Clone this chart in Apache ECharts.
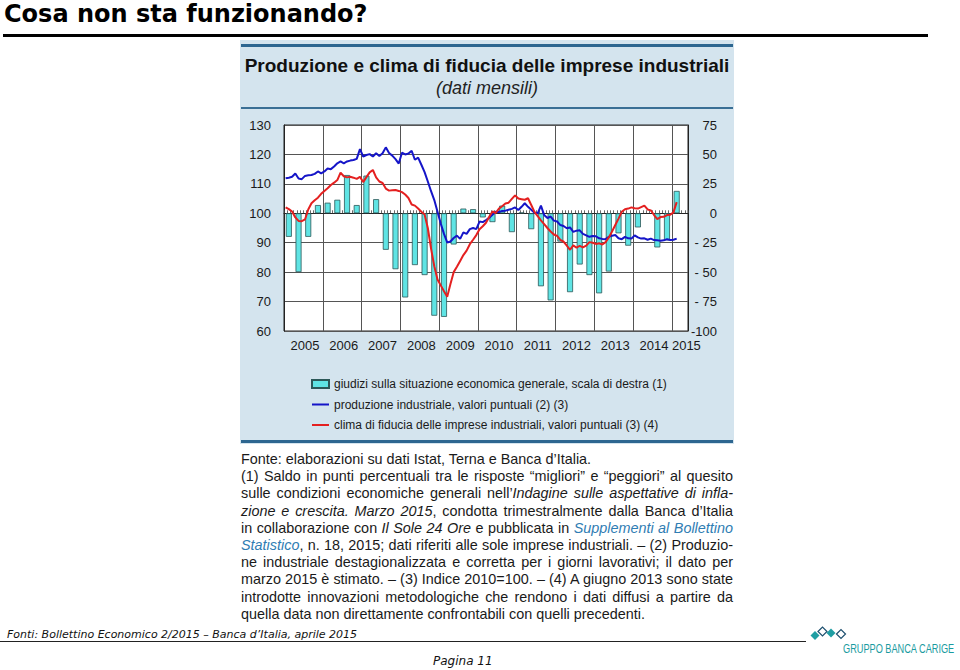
<!DOCTYPE html>
<html><head><meta charset="utf-8">
<script src="https://cdn.jsdelivr.net/npm/echarts@6/dist/echarts.min.js"></script>
<style>
html,body{margin:0;padding:0;width:960px;height:670px;overflow:hidden;background:#fff;}
#slideTitle{position:absolute;left:4px;top:0;font:bold 24px "DejaVu Sans",Verdana,sans-serif;line-height:28px;color:#000;white-space:nowrap;}
#rule{position:absolute;left:3px;top:34px;width:925px;height:3px;background:#000;}
#chart{position:absolute;left:240px;top:40px;width:494px;height:404px;}
#notes{position:absolute;left:241px;top:451px;width:492px;font:14.4px "Liberation Sans",Arial,sans-serif;line-height:17.2px;color:#1a1a1a;}
#notes div{text-align:justify;text-align-last:justify;height:17.2px;}
#notes div.l{text-align-last:left;}
#notes i.b{color:#2f7db3;}
#fonti{position:absolute;left:7px;top:628px;font:italic 11px "DejaVu Sans",Verdana,sans-serif;line-height:14px;color:#111;white-space:nowrap;}
#frule{position:absolute;left:0;top:641px;width:806px;height:1px;background:#222;}
#pagina{position:absolute;left:433px;top:653px;font:italic 12px "DejaVu Sans",Verdana,sans-serif;line-height:16px;color:#111;white-space:nowrap;}
#logo{position:absolute;left:800px;top:622px;}
#logoText{position:absolute;left:843px;top:641px;font:13.5px "Liberation Sans",Arial,sans-serif;line-height:15px;color:#1a9ba0;white-space:nowrap;transform:scaleX(0.68);transform-origin:0 0;}
</style></head>
<body>
<div id="slideTitle">Cosa non sta funzionando?</div>
<div id="rule"></div>
<div id="chart"></div>
<div id="notes">
<div class="l">Fonte: elaborazioni su dati Istat, Terna e Banca d’Italia.</div>
<div>(1) Saldo in punti percentuali tra le risposte “migliori” e “peggiori” al quesito</div>
<div>sulle condizioni economiche generali nell’<i>Indagine sulle aspettative di infla-</i></div>
<div><i>zione e crescita. Marzo 2015</i>, condotta trimestralmente dalla Banca d’Italia</div>
<div>in collaborazione con <i>Il Sole 24 Ore</i> e pubblicata in <i class="b">Supplementi al Bollettino</i></div>
<div><i class="b">Statistico</i>, n. 18, 2015; dati riferiti alle sole imprese industriali. – (2) Produzio-</div>
<div>ne industriale destagionalizzata e corretta per i giorni lavorativi; il dato per</div>
<div>marzo 2015 è stimato. – (3) Indice 2010=100. – (4) A giugno 2013 sono state</div>
<div>introdotte innovazioni metodologiche che rendono i dati diffusi a partire da</div>
<div class="l">quella data non direttamente confrontabili con quelli precedenti.</div>
</div>
<div id="fonti">Fonti: Bollettino Economico 2/2015 – Banca d’Italia, aprile 2015</div>
<div id="frule"></div>
<div id="pagina">Pagina 11</div>
<svg id="logo" width="50" height="22">
<polygon points="10.5,13.5 15,9 19.5,13.5 15,18" fill="#1f9ea3"/>
<polygon points="18,9.5 22.5,5 27,9.5 22.5,14" fill="#fff" stroke="#1d4f6e" stroke-width="1.2"/>
<polygon points="26.5,11 31,6.5 35.5,11 31,15.5" fill="#1f9ea3"/>
<polygon points="36.5,12 41,7.5 45.5,12 41,16.5" fill="#fff" stroke="#1d4f6e" stroke-width="1.2"/>
</svg>
<div id="logoText">GRUPPO BANCA CARIGE</div>
<script>
// ---- data ----
const years = ['2005','2006','2007','2008','2009','2010','2011','2012','2013','2014','2015'];
const months = [];
years.forEach(y => { for (let m = 1; m <= 12; m++) { if (y === '2015' && m > 5) break; months.push(y + '-' + String(m).padStart(2, '0')); } });

const rightTicks = [75, 50, 25, 0, -25, -50, -75, -100];

// quarterly survey balance (Q1 2005 .. Q1 2015), right scale
const giudizi = [
  -20, -50, -20, 7,
  9, 11.5, 32.5, 7,
  32, 12, -31, -47.5,
  -71.5, -44, -52.5, -87,
  -88, -26.5, 4, 3.5,
  -3.5, -7.5, 6.5, -16,
  0.6, -13.5, -62, -74,
  -24, -67, -43.5, -52.5,
  -68, -49.5, -17, -27.5,
  -12, null, -29, -23,
  19
];

// monthly industrial production (Jan 2005 .. Feb 2015)
const produzione = [
  111.9,112.1,112.4,113.5,111.8,111.6,112.7,112.9,113.0,113.4,114.2,113.6,
  114.2,115.2,115.0,115.9,117.0,117.6,117.0,117.6,117.9,118.1,118.5,121.8,
  119.3,119.8,120.1,119.3,120.4,119.5,120.4,122.4,120.5,119.6,118.4,116.9,
  120.6,120.0,120.3,121.2,118.2,118.9,116.5,114.0,110.8,107.5,104.5,100.5,
  96.5,93.0,90.1,90.4,91.6,92.4,91.3,93.5,93.0,94.6,95.0,94.6,
  97.2,97.0,97.7,98.5,99.5,100.5,100.4,100.8,100.9,101.2,101.5,102.0,
  101.1,102.2,103.4,102.2,101.2,100.2,100.0,102.6,99.4,98.4,98.9,97.5,
  97.2,96.0,95.7,94.9,95.2,93.7,94.1,94.2,93.0,92.5,92.0,92.3,
  92.2,91.5,91.3,91.2,92.0,92.4,92.6,91.5,91.2,92.0,91.5,91.4,
  92.5,91.8,91.4,91.5,91.0,91.4,90.9,90.8,90.7,90.8,91.2,90.9,
  91.0,91.4
];

// monthly business confidence (Jan 2005 .. Feb 2015)
const clima = [
  102.0,101.4,100.6,98.6,97.4,97.3,97.9,101.3,103.4,104.4,105.3,106.6,
  107.6,108.5,109.6,110.4,111.3,113.8,112.6,112.2,112.4,112.1,111.7,112.4,
  110.6,112.3,113.9,114.7,112.2,110.8,110.3,108.4,107.7,107.8,107.9,107.6,
  107.2,106.4,105.2,103.0,102.6,101.6,100.5,99.6,95.0,88.0,82.0,77.5,
  75.5,73.5,71.6,76.0,80.0,81.8,83.8,85.8,87.3,89.5,91.0,92.6,
  94.6,95.6,96.8,98.8,100.6,100.1,101.6,102.4,103.3,103.6,104.9,106.1,
  105.0,104.8,104.6,105.1,102.8,100.5,99.0,97.6,96.3,95.0,93.8,92.8,
  92.3,91.0,90.4,89.0,87.6,89.1,88.3,88.9,88.4,89.0,90.2,90.0,
  89.6,89.8,89.4,90.2,91.8,93.8,96.0,98.2,100.5,101.4,101.6,102.0,
  101.7,101.6,102.1,102.6,101.3,101.0,99.4,98.0,98.7,98.8,99.4,99.5,
  100.3,103.8
];

const nameBar = 'giudizi sulla situazione economica generale, scala di destra (1)';
const nameProd = 'produzione industriale, valori puntuali (2) (3)';
const nameClima = 'clima di fiducia delle imprese industriali, valori puntuali (3) (4)';

// quarterly values placed at middle month of each quarter
const barData = months.map(() => null);
giudizi.forEach((v, q) => { barData[3 * q + 1] = v; });

const font = '"Liberation Sans", Arial, Helvetica, sans-serif';
const chart = echarts.init(document.getElementById('chart'), null, {renderer: 'svg'});
chart.setOption({
  animation: false,
  backgroundColor: '#d4e4ee',
  textStyle: {fontFamily: font},
  title: {
    left: 'center', top: 10, itemGap: 3,
    text: 'Produzione e clima di fiducia delle imprese industriali',
    subtext: '(dati mensili)',
    textStyle: {fontFamily: font, fontSize: 19, fontWeight: 'bold', color: '#111', lineHeight: 20},
    subtextStyle: {fontFamily: font, fontSize: 18, fontStyle: 'italic', color: '#222', lineHeight: 20}
  },
  graphic: [
    {type: 'rect', left: 1, top: 4, shape: {width: 492, height: 3}, style: {fill: '#2d6690'}, silent: true},
    {type: 'rect', left: 1, top: 67, shape: {width: 492, height: 2}, style: {fill: '#3a6f95'}, silent: true},
    {type: 'rect', left: 1, top: 400, shape: {width: 492, height: 3}, style: {fill: '#2d6690'}, silent: true}
  ],
  legend: {
    orient: 'vertical', left: 66, top: 333, itemWidth: 17, itemHeight: 8, itemGap: 8.5,
    textStyle: {fontFamily: font, fontSize: 12, color: '#1a1a1a'},
    data: [
      {name: nameBar, icon: 'rect'},
      {name: nameProd, itemStyle: {opacity: 0}},
      {name: nameClima, itemStyle: {opacity: 0}}
    ],
    selectedMode: false
  },
  grid: {left: 44, right: 46, top: 85, bottom: 113, show: true, backgroundColor: '#fff', borderColor: '#222', borderWidth: 1},
  xAxis: {
    type: 'category', data: months, boundaryGap: true,
    axisLine: {show: true, lineStyle: {color: '#222', width: 1}},
    axisTick: {show: true, inside: true, length: 3, interval: 0, lineStyle: {color: '#444', width: 0.8}},
    axisLabel: {
      interval: (i, v) => v.endsWith('-07') || i === months.length - 1,
      formatter: v => v.slice(0, 4),
      margin: 8, fontSize: 13, color: '#1a1a1a', fontFamily: font
    },
    splitLine: {show: true, interval: (i) => i % 12 === 0, lineStyle: {color: '#555', width: 1}}
  },
  yAxis: [
    {type: 'value', min: 60, max: 130, interval: 10, position: 'left',
     axisLine: {show: true, lineStyle: {color: '#222'}}, axisTick: {show: false},
     axisLabel: {margin: 13, fontSize: 13, color: '#1a1a1a', fontFamily: font},
     splitLine: {show: true, lineStyle: {color: '#555', width: 1}}},
    {type: 'value', min: rightTicks[rightTicks.length - 1], max: rightTicks[0], interval: 25, position: 'right',
     axisLine: {show: true, lineStyle: {color: '#222'}}, axisTick: {show: false},
     axisLabel: {align: 'right', margin: 29, fontSize: 13, color: '#1a1a1a', fontFamily: font,
       formatter: v => (v < 0 && v > -100) ? '- ' + Math.abs(v) : String(v)},
     splitLine: {show: false}}
  ],
  series: [
    {name: nameBar, type: 'bar', yAxisIndex: 1, data: barData, barWidth: 6, z: 2,
     itemStyle: {color: '#5fe4e4', borderColor: '#2c5858', borderWidth: 0.8}},
    {name: nameProd, type: 'line', data: produzione, symbol: 'none', z: 4,
     lineStyle: {color: '#1515c8', width: 2}, itemStyle: {color: '#1515c8'}},
    {name: nameClima, type: 'line', data: clima, symbol: 'none', z: 5,
     lineStyle: {color: '#e42020', width: 2}, itemStyle: {color: '#e42020'}}
  ]
});
</script>
</body></html>
